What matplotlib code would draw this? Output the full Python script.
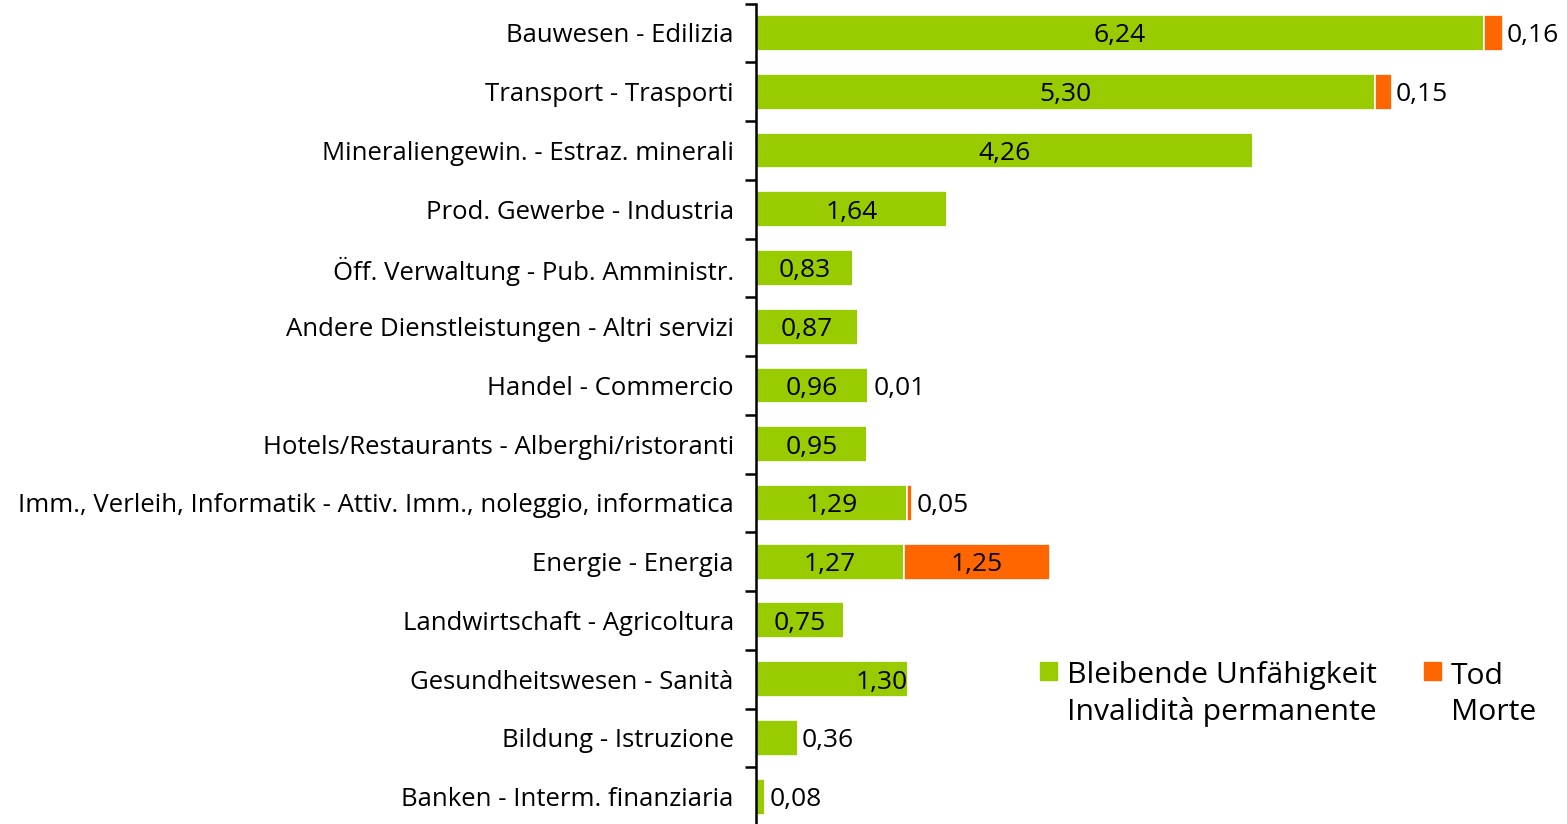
import matplotlib
matplotlib.use('Agg')
import matplotlib.pyplot as plt
import numpy as np
from matplotlib.patches import Patch

plt.rcParams['font.family'] = ['Open Sans', 'DejaVu Sans']

# Sectors (top to bottom)
categories = ['Bauwesen - Edilizia',
              'Transport - Trasporti',
              'Mineraliengewin. - Estraz. minerali',
              'Prod. Gewerbe - Industria',
              'Öff. Verwaltung - Pub. Amministr.',
              'Andere Dienstleistungen - Altri servizi',
              'Handel - Commercio',
              'Hotels/Restaurants - Alberghi/ristoranti',
              'Imm., Verleih, Informatik - Attiv. Imm., noleggio, informatica',
              'Energie - Energia',
              'Landwirtschaft - Agricoltura',
              'Gesundheitswesen - Sanità',
              'Bildung - Istruzione',
              'Banken - Interm. finanziaria']
invalid = [6.24, 5.30, 4.26, 1.64, 0.83, 0.87, 0.96, 0.95, 1.29, 1.27, 0.75, 1.30, 0.36, 0.08]
death = [0.16, 0.15, 0, 0, 0, 0, 0.01, 0, 0.05, 1.25, 0, 0, 0, 0]

green = '#99CC00'
orange = '#FF6600'

def fmt(v):
    return ('%.2f' % v).replace('.', ',')

fig = plt.figure(figsize=(15.67, 8.24), dpi=100)
ax = fig.add_axes([756 / 1567, -2 / 824, 1 - 756 / 1567, 1 - 1.6 / 824])

y = np.arange(len(categories))
ax.barh(y, invalid, height=0.61, color=green, edgecolor='white', linewidth=1.2)
ax.barh(y, death, left=invalid, height=0.61, color=orange, edgecolor='white', linewidth=1.2)

fs = 18.5
vfs = 19
off = 0.035
for i in range(len(categories)):
    g = invalid[i]
    d = death[i]
    if g >= 0.5:
        if categories[i].startswith('Gesundheit'):
            # label sits at the end of this bar in the original
            ax.text(g, i, fmt(g), ha='right', va='center_baseline', fontsize=vfs)
        else:
            ax.text(g / 2, i, fmt(g), ha='center', va='center_baseline', fontsize=vfs)
    else:
        ax.text(g + off, i, fmt(g), ha='left', va='center_baseline', fontsize=vfs)
    if d > 0:
        if d >= 0.5:
            ax.text(g + d / 2, i, fmt(d), ha='center', va='center_baseline', fontsize=vfs)
        else:
            ax.text(g + d + off, i, fmt(d), ha='left', va='center_baseline', fontsize=vfs)

ax.set_xlim(0, (1567 - 756) / 116.7)
ax.set_ylim(len(categories) - 0.5, -0.5)

ax.set_yticks(np.arange(-0.5, len(categories), 1.0))
ax.set_yticklabels([])
ax.set_yticks(y, minor=True)
ax.set_yticklabels(categories, minor=True, fontsize=fs)
ax.tick_params(axis='y', which='major', direction='out', length=8, width=1.8)
ax.tick_params(axis='y', which='minor', length=0, pad=16)
ax.set_xticks([])

for s in ['top', 'right', 'bottom']:
    ax.spines[s].set_visible(False)
ax.spines['left'].set_linewidth(1.8)
ax.spines['left'].set_zorder(5)

handles = [Patch(color=green, label='Bleibende Unfähigkeit\nInvalidità permanente'),
           Patch(color=orange, label='Tod\nMorte')]
leg = fig.legend(handles=handles, ncol=2, loc='upper left',
                 bbox_to_anchor=(1040 / 1567, 1 - 661 / 824), frameon=False,
                 fontsize=21.7, handlelength=0.57, handleheight=0.57,
                 handletextpad=0.33, columnspacing=1.55, borderaxespad=0,
                 borderpad=0, labelspacing=0.2)
for t in leg.get_texts():
    t.set_linespacing(1.32)
for h in leg.legend_handles:
    h.set_y(h.get_y() + 17)

fig.savefig('out.png', dpi=100)
